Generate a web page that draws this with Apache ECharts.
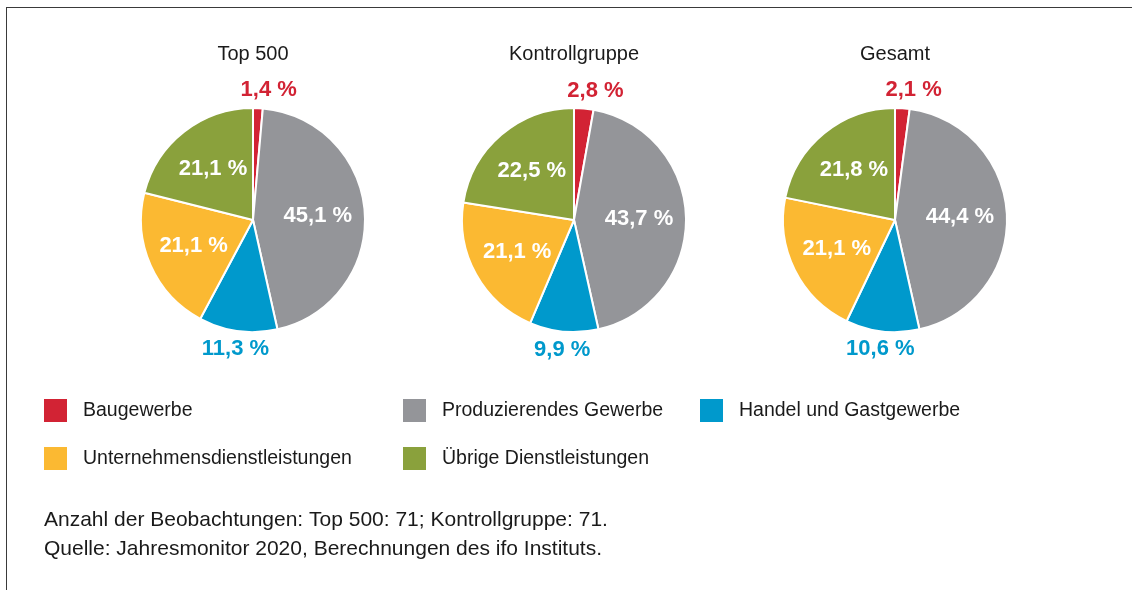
<!DOCTYPE html>
<html>
<head>
<meta charset="utf-8">
<script src="https://cdn.jsdelivr.net/npm/echarts@6/dist/echarts.min.js"></script>
<style>
  html, body { margin: 0; padding: 0; background: #ffffff; }
  #wrap { position: relative; width: 1132px; height: 590px; overflow: hidden; }
  #frame { position: absolute; left: 6px; top: 7px; right: -2px; bottom: -2px;
           border-top: 1px solid #3a3a3a; border-left: 1px solid #3a3a3a; pointer-events: none; }
  #chart { position: absolute; left: 0; top: 0; width: 1132px; height: 590px; }
</style>
</head>
<body>
<div id="wrap">
  <div id="chart"></div>
  <div id="frame"></div>
</div>
<script>
// Sector shares in percent, clockwise from 12 o'clock
const categories = [
  'Baugewerbe',
  'Produzierendes Gewerbe',
  'Handel und Gastgewerbe',
  'Unternehmensdienstleistungen',
  'Übrige Dienstleistungen'
];
const groups = ['Top 500', 'Kontrollgruppe', 'Gesamt'];
const top500 = [1.4, 45.1, 11.3, 21.1, 21.1];
const kontrollgruppe = [2.8, 43.7, 9.9, 21.1, 22.5];
const gesamt = [2.1, 44.4, 10.6, 21.1, 21.8];
const groupValues = [top500, kontrollgruppe, gesamt];

const colors = ['#D22334', '#949599', '#0099CC', '#FBB932', '#8AA13C'];
// labels drawn outside the circle (small slices), in the slice colour
const outsideLabel = [true, false, true, false, false];

const FONT = '"Liberation Sans", Arial, sans-serif';
const centersX = [253, 574, 895];
const centerY = 220;
const R = 112;

function fmt(v) {
  return v.toFixed(1).replace('.', ',') + ' %';
}

// label anchor: along the slice's mid angle, inside or just beyond the rim
function labelPos(si, di) {
  const vals = groupValues[si];
  const total = vals.reduce((a, b) => a + b, 0);
  let before = 0;
  for (let k = 0; k < di; k++) before += vals[k];
  const mid = (before + vals[di] / 2) / total * Math.PI * 2;
  const outside = outsideLabel[di];
  const dist = outside ? R + 18 : R * 0.58;
  const up = Math.cos(mid) > 0;
  return {
    x: centersX[si] + dist * Math.sin(mid) + (outside && up ? 10 : 0),
    y: centerY - dist * Math.cos(mid)
  };
}

const series = groups.map((g, si) => ({
  type: 'pie',
  name: g,
  center: [centersX[si], centerY],
  radius: [0, R],
  startAngle: 90,
  clockwise: true,
  avoidLabelOverlap: false,
  animation: false,
  itemStyle: { borderColor: '#ffffff', borderWidth: 2 },
  emphasis: { disabled: true },
  label: {
    show: true,
    position: 'inside',
    fontFamily: FONT,
    fontSize: 22,
    fontWeight: 'bold',
    formatter: p => fmt(p.value)
  },
  labelLine: { show: false },
  labelLayout: p => {
    const pos = labelPos(si, p.dataIndex);
    return { x: pos.x, y: pos.y, align: 'center', verticalAlign: 'middle' };
  },
  data: categories.map((c, i) => ({
    name: c,
    value: groupValues[si][i],
    itemStyle: { color: colors[i] },
    label: { color: outsideLabel[i] ? colors[i] : '#ffffff' }
  }))
}));

const legendBase = {
  orient: 'vertical',
  top: 399,
  padding: 0,
  icon: 'rect',
  itemWidth: 23,
  itemHeight: 23,
  itemGap: 25,
  selectedMode: false,
  itemStyle: { borderWidth: 0 },
  textStyle: { fontFamily: FONT, fontSize: 19.5, color: '#1a1a1a', padding: [0, 0, 0, 11] }
};

const option = {
  backgroundColor: '#ffffff',
  color: colors,
  title: groups.map((g, si) => ({
    text: g,
    left: centersX[si],
    top: 44,
    padding: 0,
    textAlign: 'center',
    textStyle: { fontFamily: FONT, fontSize: 20, fontWeight: 'normal', color: '#1a1a1a' }
  })).concat([{
    text: 'Anzahl der Beobachtungen: Top 500: 71; Kontrollgruppe: 71.\nQuelle: Jahresmonitor 2020, Berechnungen des ifo Instituts.',
    left: 44,
    top: 506,
    padding: 0,
    textStyle: { fontFamily: FONT, fontSize: 21, fontWeight: 'normal', color: '#1a1a1a', lineHeight: 29 }
  }]),
  legend: [
    Object.assign({}, legendBase, { left: 44, data: [categories[0], categories[3]] }),
    Object.assign({}, legendBase, { left: 403, data: [categories[1], categories[4]] }),
    Object.assign({}, legendBase, { left: 700, data: [categories[2]] })
  ],
  series: series
};

const chart = echarts.init(document.getElementById('chart'), null, { renderer: 'canvas' });
chart.setOption(option);
</script>
</body>
</html>
